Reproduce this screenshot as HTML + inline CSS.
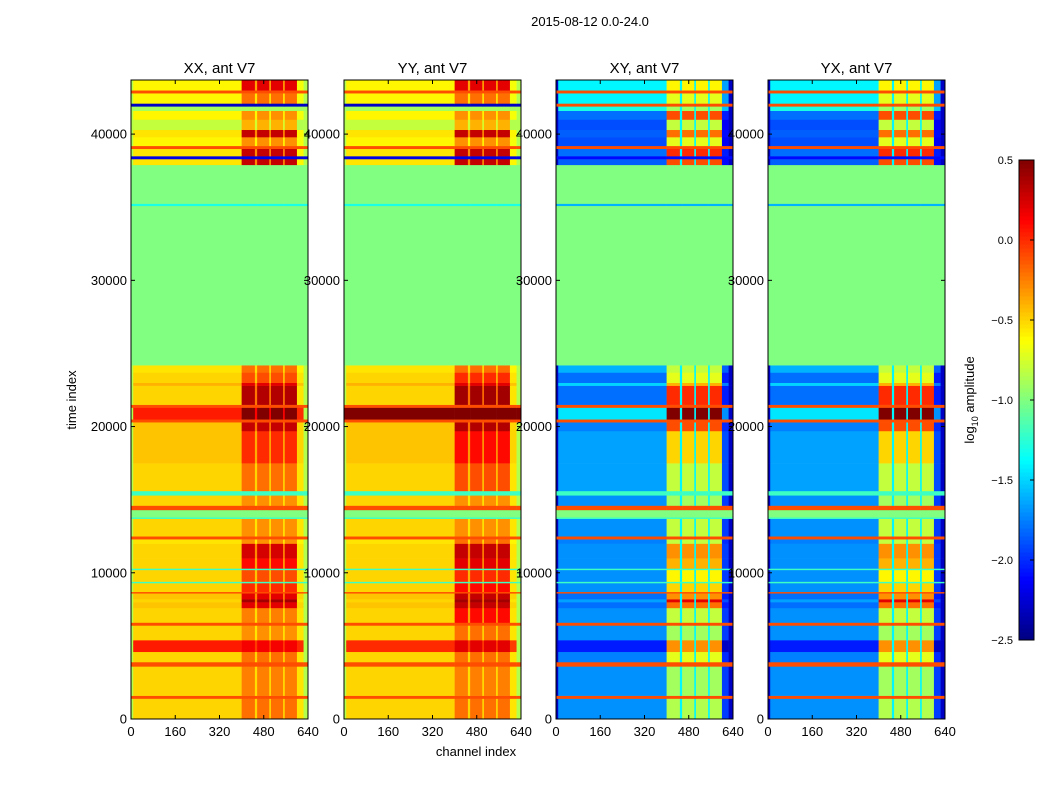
<!DOCTYPE html>
<html><head><meta charset="utf-8"><style>
body{margin:0;background:#fff;width:1050px;height:800px;overflow:hidden;font-family:"Liberation Sans",sans-serif}
svg{display:block}
</style></head><body>
<svg id="chart" width="1050" height="800">
<text x="590" y="26" font-size="13" text-anchor="middle">2015-08-12 0.0-24.0</text>
<text x="476" y="756" font-size="13" text-anchor="middle">channel index</text>
<text transform="translate(76,400) rotate(-90)" font-size="13" text-anchor="middle">time index</text>
<g id="panels"></g>
<g id="cbar"></g>
<text transform="translate(974,400) rotate(-90)" font-size="13" text-anchor="middle">log<tspan font-size="9" dy="4">10</tspan><tspan dy="-4"> amplitude</tspan></text>
</svg>
<script>
const bandStart=[0,1400,1600,3600,3900,4600,5400,6400,6600,7600,8000,8200,8600,8700,9300,9400,10200,10300,11000,12000,12300,12500,13700,13800,14300,14600,15300,15600,17500,19700,20300,20500,21300,21500,22800,23000,23700,24200,35100,35250,37900,38300,38500,39000,39200,39800,40300,41000,41600,41900,42100,42800,43000];
const bandEnd=[1400,1600,3600,3900,4600,5400,6400,6600,7600,8000,8200,8600,8700,9300,9400,10200,10300,11000,12000,12300,12500,13700,13800,14300,14600,15300,15600,17500,19700,20300,20500,21300,21500,22800,23000,23700,24200,35100,35250,37900,38300,38500,39000,39200,39800,40300,41000,41600,41900,42100,42800,43000,43700];
const xxLow=[-0.5,-0.1,-0.5,-0.1,-0.5,0.05,-0.5,-0.1,-0.5,-0.45,-0.5,-0.45,-0.1,-0.5,-1.2,-0.5,-1.2,-0.5,-0.5,-0.55,-0.1,-0.5,-1.2,-1.0,-0.1,-0.5,-1.2,-0.5,-0.45,-0.45,-0.1,0.05,-0.1,-0.5,-0.4,-0.5,-0.55,-1.0,-1.3,-1.0,-0.55,-2.2,-0.55,-0.1,-0.6,-0.55,-0.8,-0.6,-0.9,-2.3,-0.6,-0.1,-0.6];
const xxStripe=[-0.2,-0.1,-0.25,-0.1,-0.2,0.15,-0.3,-0.1,-0.25,0.2,0.4,0.2,-0.1,0.0,-1.2,-0.1,-1.2,0.1,0.25,-0.3,-0.1,-0.3,-1.2,-1.0,-0.1,-0.3,-1.2,-0.2,0.0,0.3,-0.1,0.5,-0.1,0.35,0.2,-0.1,-0.2,-1.0,-1.3,-1.0,0.3,-2.2,0.3,-0.1,-0.3,0.3,-0.4,-0.3,-0.9,-2.3,-0.2,-0.1,0.2];
const yyLow=[-0.5,-0.1,-0.5,-0.1,-0.5,0.0,-0.5,-0.1,-0.5,-0.45,-0.5,-0.45,-0.1,-0.5,-1.2,-0.5,-1.2,-0.5,-0.5,-0.55,-0.1,-0.5,-1.2,-1.0,-0.1,-0.5,-1.2,-0.5,-0.45,-0.45,-0.1,0.5,-0.1,-0.5,-0.4,-0.5,-0.55,-1.0,-1.3,-1.0,-0.55,-2.2,-0.55,-0.1,-0.6,-0.55,-0.8,-0.6,-0.9,-2.3,-0.6,-0.1,-0.6];
const yyStripe=[-0.2,-0.1,-0.25,-0.1,-0.2,0.2,-0.2,-0.1,0.1,0.3,0.4,0.3,-0.1,0.1,-1.2,0.0,-1.2,0.2,0.3,-0.2,-0.1,-0.3,-1.2,-1.0,-0.1,-0.3,-1.2,-0.1,0.1,0.35,-0.1,0.5,-0.1,0.4,0.2,0.0,-0.2,-1.0,-1.3,-1.0,0.3,-2.2,0.3,-0.1,-0.3,0.3,-0.4,-0.3,-0.9,-2.3,-0.2,-0.1,0.2];
const xyLow=[-1.7,-0.1,-1.7,-0.1,-1.75,-2.05,-1.7,-0.1,-1.7,-1.8,-1.65,-1.8,-0.1,-1.7,-1.2,-1.7,-1.2,-1.7,-1.7,-1.75,-0.1,-1.7,-1.2,-1.0,-0.1,-1.7,-1.2,-1.65,-1.65,-1.75,-0.1,-1.45,-0.1,-1.8,-1.5,-1.8,-1.6,-1.0,-1.6,-1.0,-1.85,-2.1,-1.8,-0.1,-1.9,-1.85,-1.9,-1.8,-1.3,-0.1,-1.4,-0.1,-1.4];
const xyStripe=[-0.85,-0.1,-0.9,-0.1,-0.7,-0.3,-0.9,-0.1,-0.8,-0.2,0.2,-0.3,-0.1,-0.5,-1.2,-0.6,-1.2,-0.4,-0.3,-0.8,-0.1,-0.8,-1.2,-1.0,-0.1,-0.9,-1.2,-0.8,-0.5,-0.1,-0.1,0.5,-0.1,0.0,-0.4,-0.7,-0.8,-1.0,-1.6,-1.0,-0.1,-2.1,0.0,-0.1,-0.7,-0.2,-0.8,-0.1,-0.9,-0.1,-0.7,-0.1,-0.6];
const yxLow=[-1.7,-0.1,-1.7,-0.1,-1.75,-2.05,-1.7,-0.1,-1.7,-1.8,-1.65,-1.8,-0.1,-1.7,-1.2,-1.7,-1.2,-1.7,-1.7,-1.75,-0.1,-1.7,-1.2,-1.0,-0.1,-1.7,-1.2,-1.65,-1.65,-1.75,-0.1,-1.45,-0.1,-1.8,-1.5,-1.8,-1.6,-1.0,-1.6,-1.0,-1.85,-2.1,-1.8,-0.1,-1.9,-1.85,-1.9,-1.8,-1.3,-0.1,-1.4,-0.1,-1.4];
const yxStripe=[-0.85,-0.1,-0.9,-0.1,-0.7,-0.3,-0.9,-0.1,-0.8,-0.2,0.2,-0.3,-0.1,-0.5,-1.2,-0.6,-1.2,-0.4,-0.3,-0.8,-0.1,-0.8,-1.2,-1.0,-0.1,-0.9,-1.2,-0.8,-0.5,-0.1,-0.1,0.5,-0.1,0.0,-0.4,-0.7,-0.8,-1.0,-1.6,-1.0,-0.1,-2.1,0.0,-0.1,-0.7,-0.2,-0.8,-0.1,-0.9,-0.1,-0.7,-0.1,-0.6];
const colEdges=[0,8,400,448,456,500,506,550,556,600,624,640];
const colType=['E','L','S','G','S','G','S','G','S','R','E'];
const panelTitles=['XX, ant V7','YY, ant V7','XY, ant V7','YX, ant V7'];
const xTicks=[0,160,320,480,640];
const yTicks=[0,10000,20000,30000,40000];
const cbTicks=[0.5,0.0,-0.5,-1.0,-1.5,-2.0,-2.5];
const panelLeft=[131,344,556,768];
const PW=177,PT=80,PB=719,TMAX=43700,VMIN=-2.5,VMAX=0.5;
const NS='http://www.w3.org/2000/svg';
function jet(v){let x=(v-VMIN)/(VMAX-VMIN);x=Math.max(0,Math.min(1,x));
 const c=t=>Math.round(255*Math.max(0,Math.min(1,1.5-Math.abs(4*x-t))));
 return `rgb(${c(3)},${c(2)},${c(1)})`;}
function yS(t){return PB-(t/TMAX)*(PB-PT);}
function mk(tag,at,parent){const e=document.createElementNS(NS,tag);for(const k in at)e.setAttribute(k,at[k]);parent.appendChild(e);return e;}
const panels=document.getElementById('panels');
const lows=[xxLow,yyLow,xyLow,yxLow],stripes=[xxStripe,yyStripe,xyStripe,yxStripe];
const names=['xx','yy','xy','yx'];
for(let p=0;p<4;p++){
 const L=panelLeft[p];const xS=c=>L+c/640*PW;const cross=p>=2;
 const g=mk('g',{},panels);
 
 
 const hm=mk('g',{},g);
 
 
 for(let b=0;b<bandStart.length;b++){
  const lo=lows[p][b],st=stripes[p][b],uni=lo===st;
  const y1=yS(bandEnd[b]),y0=yS(bandStart[b]);const h=Math.max(1,y0-y1);
  for(let c=0;c<colType.length;c++){
   let v;const t=colType[c];
   if(uni)v=lo;
   else if(t==='L')v=lo;
   else if(t==='S')v=st;
   else if(t==='G')v=cross?-1.4:(lo+st)/2-0.15;
   else if(t==='R')v=cross?lo-0.25:lo-0.05;
   else v=cross?-2.3:-0.85;
   const r=mk('rect',{x:xS(colEdges[c]),y:y1,width:xS(colEdges[c+1])-xS(colEdges[c])+0.3,height:h+0.3,fill:jet(v)},hm);
   
   
  }
 }
 mk('rect',{x:L,y:PT,width:PW,height:PB-PT,fill:'none',stroke:'#000','stroke-width':1},g);
 const tt=mk('text',{x:L+PW/2,y:73,'font-size':15,'text-anchor':'middle'},g);tt.textContent=panelTitles[p];
 
 
 for(const v of xTicks){const x=xS(v);
  mk('line',{x1:x,x2:x,y1:PB,y2:PB-4,stroke:'#000'},g);mk('line',{x1:x,x2:x,y1:PT,y2:PT+4,stroke:'#000'},g);
  const t=mk('text',{x:x,y:736,'font-size':13,'text-anchor':'middle'},g);t.textContent=v;
  
  }
 for(const v of yTicks){const y=yS(v);
  mk('line',{x1:L,x2:L+4,y1:y,y2:y,stroke:'#000'},g);mk('line',{x1:L+PW,x2:L+PW-4,y1:y,y2:y,stroke:'#000'},g);
  const t=mk('text',{x:L-4,y:y+4.5,'font-size':13,'text-anchor':'end'},g);t.textContent=v;
  
  }
}
const cb=document.getElementById('cbar');const CX=1019,CW=15,CT=160,CB=640;
for(let i=0;i<120;i++){const v=VMIN+(i+0.5)/120*(VMAX-VMIN);const y=CB-(i+1)/120*(CB-CT);
 mk('rect',{x:CX,y:y,width:CW,height:(CB-CT)/120+0.5,fill:jet(v)},cb);}
mk('rect',{x:CX,y:CT,width:CW,height:CB-CT,fill:'none',stroke:'#000'},cb);
for(const v of cbTicks){const y=CB-(v-VMIN)/(VMAX-VMIN)*(CB-CT);
 mk('line',{x1:CX+CW-4,x2:CX+CW,y1:y,y2:y,stroke:'#000'},cb);
 const t=mk('text',{x:CX-6,y:y+4,'font-size':11,'text-anchor':'end'},cb);t.textContent=(v<0?'\u2212'+Math.abs(v).toFixed(1):v.toFixed(1));
 
 }
</script>
</body></html>
